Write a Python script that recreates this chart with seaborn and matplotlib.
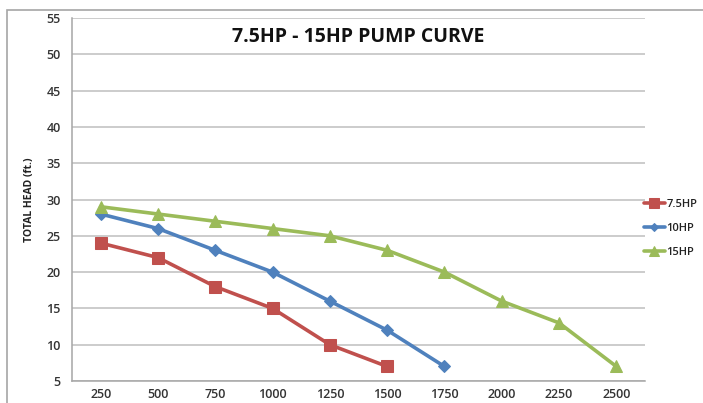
import matplotlib
matplotlib.use("Agg")
import matplotlib.pyplot as plt
import seaborn as sns
import pandas as pd
from matplotlib.patches import Rectangle

flow = [250, 500, 750, 1000, 1250, 1500, 1750, 2000, 2250, 2500]
head_75hp = [24, 22, 18, 15, 10, 7]
head_10hp = [28, 26, 23, 20, 16, 12, 7]
head_15hp = [29, 28, 27, 26, 25, 23, 20, 16, 13, 7]
series = ["7.5HP", "10HP", "15HP"]

rows = []
for name, heads in zip(series, [head_75hp, head_10hp, head_15hp]):
    for q, h in zip(flow, heads):
        rows.append({"flow": q, "head": h, "pump": name})
df = pd.DataFrame(rows)

sns.set_style("white")
plt.rcParams["font.family"] = ["Open Sans", "DejaVu Sans"]

colors = {"7.5HP": "#C0504D", "10HP": "#4F81BD", "15HP": "#9BBB59"}
markers = {"7.5HP": "s", "10HP": "D", "15HP": "^"}
msizes = {"7.5HP": 9, "10HP": 6, "15HP": 9}

fig = plt.figure(figsize=(7.03, 4.03), dpi=100)
ax = fig.add_axes([72 / 703, 1 - 381 / 403, (645 - 72) / 703, (381 - 18) / 403])

# figure border
fig.patches.append(Rectangle((7 / 703, -0.05), 1.05, 1 - 10 / 403 + 0.05,
                             transform=fig.transFigure, fill=False,
                             edgecolor="#A6A6A6", linewidth=1.2))

for name in series:
    sub = df[df["pump"] == name]
    sns.lineplot(data=sub, x="flow", y="head", ax=ax, color=colors[name],
                 marker=markers[name], markersize=msizes[name],
                 markeredgecolor=colors[name], linewidth=2.6, label=name)

ax.set_xlim(125, 2625)
ax.set_ylim(5, 55)
ax.set_xticks(flow)
ax.set_xticklabels([str(v) for v in flow])
ax.set_yticks(range(5, 60, 5))
ax.tick_params(axis="y", length=0, labelsize=9, colors="#333333", pad=8)
ax.tick_params(axis="x", length=0, labelsize=9, colors="#333333", pad=5)
for lbl in ax.get_xticklabels() + ax.get_yticklabels():
    lbl.set_fontweight("semibold")
ax.yaxis.grid(True, color="#BFBFBF", linewidth=1.1)
ax.xaxis.grid(False)
for side in ["top", "right"]:
    ax.spines[side].set_visible(False)
for side in ["left", "bottom"]:
    ax.spines[side].set_color("#A6A6A6")
    ax.spines[side].set_linewidth(1.1)

ax.set_xlabel("")
ax.set_ylabel("TOTAL HEAD (ft.)", fontsize=7.5, fontweight="bold", color="#222222", labelpad=8)
ax.set_title("7.5HP - 15HP PUMP CURVE", fontsize=14, fontweight="bold",
             color="#111111", y=0.925, va="center")

leg = ax.legend(loc="center left", bbox_to_anchor=(0.98, 0.42), frameon=False,
                prop={"size": 8, "weight": "semibold"}, handlelength=1.9,
                handletextpad=0.15, labelspacing=1.15, markerscale=0.75)
for t in leg.get_texts():
    t.set_color("#222222")

fig.savefig("out.png", dpi=100)
